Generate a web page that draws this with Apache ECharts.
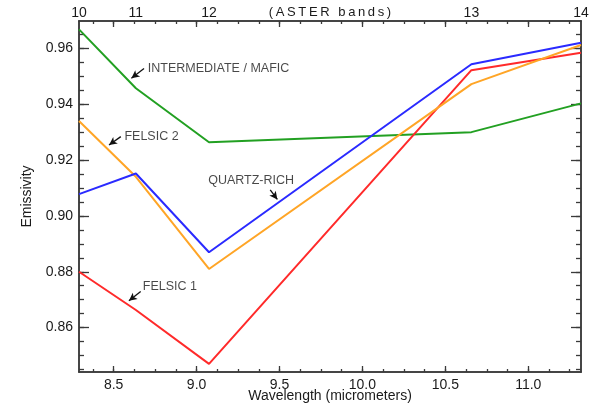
<!DOCTYPE html>
<html>
<head>
<meta charset="utf-8">
<script src="https://cdn.jsdelivr.net/npm/echarts@6/dist/echarts.min.js"></script>
<style>
  html, body { margin: 0; padding: 0; background: #fff; }
  #chart { width: 590px; height: 409px; }
</style>
</head>
<body>
<div id="chart"></div>
<script>
// ASTER TIR band centres (micrometers) and band numbers
const bandWavelengths = [8.291, 8.634, 9.075, 10.657, 11.318];
const bandNumbers = [10, 11, 12, 13, 14];

// emissivity per band
const intermediateMafic = [0.9668, 0.9457, 0.9264, 0.9300, 0.9403];
const quartzRich = [0.9078, 0.9152, 0.8870, 0.9543, 0.9620];
const felsic2 = [0.9340, 0.9140, 0.8810, 0.9472, 0.9612];
const felsic1 = [0.8800, 0.8663, 0.8470, 0.9522, 0.9584];

// tick labels
const xTickLabels = [8.5, 9.0, 9.5, 10.0, 10.5, 11.0];
const yTickLabels = [0.86, 0.88, 0.90, 0.92, 0.94, 0.96];

// annotations (data coordinates)
const annotationLabels = ['INTERMEDIATE / MAFIC', 'FELSIC 2', 'QUARTZ-RICH', 'FELSIC 1'];
const annotationTextAt = [[8.703, 0.9528], [8.562, 0.9284], [9.067, 0.9125], [8.673, 0.8746]];
const arrowTails = [[8.683, 0.9528], [8.543, 0.9284], [9.444, 0.9093], [8.663, 0.8729]];
const arrowHeads = [[8.607, 0.9493], [8.472, 0.9254], [9.487, 0.9059], [8.592, 0.8696]];

const X_MIN = 8.291, X_MAX = 11.318;
const Y_MIN = 0.8441, Y_MAX = 0.9698;

const axisColor = '#3a3a3a';
const textColor = '#1a1a1a';
const font = 'Liberation Sans, Arial, Helvetica, sans-serif';

// tick positions
const xMinorTicks = [];
for (let i = 67; i <= 90; i++) xMinorTicks.push(+(i * 0.125).toFixed(3));
const yMinorTicks = [];
for (let i = 169; i <= 193; i++) yMinorTicks.push(+(i * 0.005).toFixed(3));

const toPairs = vals => bandWavelengths.map((w, i) => [w, vals[i]]);

function xAxisDef(pos, ticks, len, labels, extra) {
  return Object.assign({
    type: 'value',
    position: pos,
    min: X_MIN,
    max: X_MAX,
    nameMoveOverlap: false,
    axisLine: { show: true, onZero: false, lineStyle: { color: axisColor, width: 1.5 } },
    axisTick: { show: true, inside: true, length: len, customValues: ticks, lineStyle: { color: axisColor, width: 1.3 } },
    axisLabel: labels ? Object.assign({ show: true, color: textColor, fontSize: 14, fontFamily: font }, labels) : { show: false },
    splitLine: { show: false }
  }, extra || {});
}

function yAxisDef(pos, ticks, len, labels, extra) {
  return Object.assign({
    type: 'value',
    position: pos,
    min: Y_MIN,
    max: Y_MAX,
    nameMoveOverlap: false,
    axisLine: { show: true, onZero: false, lineStyle: { color: axisColor, width: 1.5 } },
    axisTick: { show: true, inside: true, length: len, customValues: ticks, lineStyle: { color: axisColor, width: 1.3 } },
    axisLabel: labels ? Object.assign({ show: true, color: textColor, fontSize: 14, fontFamily: font }, labels) : { show: false },
    splitLine: { show: false }
  }, extra || {});
}

const chart = echarts.init(document.getElementById('chart'), null, { renderer: 'canvas' });

const lineSeries = (name, vals, color) => ({
  name: name,
  type: 'line',
  xAxisIndex: 0,
  yAxisIndex: 0,
  data: toPairs(vals),
  symbol: 'none',
  lineStyle: { color: color, width: 2 },
  z: 3
});

const option = {
  animation: false,
  backgroundColor: '#fff',
  grid: { left: 79, right: 9, top: 21, bottom: 37, containLabel: false, outerBoundsMode: 'none' },
  xAxis: [
    xAxisDef('bottom', xTickLabels, 6,
      { margin: 6, customValues: xTickLabels, formatter: v => v.toFixed(1) },
      {
        name: 'Wavelength (micrometers)',
        nameLocation: 'middle',
        nameGap: 17,
        nameTextStyle: { color: textColor, fontSize: 14, fontFamily: font }
      }),
    xAxisDef('bottom', xMinorTicks, 3, null),
    xAxisDef('top', xTickLabels, 6,
      {
        margin: 1,
        customValues: bandWavelengths,
        formatter: v => {
          const i = bandWavelengths.findIndex(w => Math.abs(w - v) < 1e-6);
          return i >= 0 ? String(bandNumbers[i]) : '';
        }
      },
      {
        name: '(\u2009A\u2009S\u2009T\u2009E\u2009R\u2009 \u2009b\u2009a\u2009n\u2009d\u2009s\u2009)',
        nameLocation: 'middle',
        nameGap: 2,
        nameTextStyle: { color: textColor, fontSize: 13, fontFamily: font }
      }),
    xAxisDef('top', xMinorTicks, 3, null)
  ],
  yAxis: [
    yAxisDef('left', yTickLabels, 10,
      { margin: 6, customValues: yTickLabels, formatter: v => v.toFixed(2) },
      {
        name: 'Emissivity',
        nameLocation: 'middle',
        nameGap: 45,
        nameRotate: 90,
        nameTextStyle: { color: textColor, fontSize: 14, fontFamily: font }
      }),
    yAxisDef('left', yMinorTicks, 5, null),
    yAxisDef('right', yTickLabels, 10, null),
    yAxisDef('right', yMinorTicks, 5, null)
  ],
  series: [
    lineSeries('INTERMEDIATE / MAFIC', intermediateMafic, '#22a022'),
    lineSeries('FELSIC 1', felsic1, '#ff2a2a'),
    lineSeries('FELSIC 2', felsic2, '#ffa526'),
    lineSeries('QUARTZ-RICH', quartzRich, '#2a2aff'),
    {
      name: 'labels',
      type: 'scatter',
      xAxisIndex: 0,
      yAxisIndex: 0,
      symbolSize: 1,
      itemStyle: { color: 'rgba(0,0,0,0)' },
      data: annotationTextAt.map((p, i) => ({ value: p, name: annotationLabels[i] })),
      label: {
        show: true,
        position: 'right',
        distance: 0,
        formatter: p => p.name,
        color: textColor,
        fontSize: 12.5,
        fontFamily: font
      },
      silent: true,
      z: 5,
      markLine: {
        silent: true,
        symbol: ['none', 'arrow'],
        symbolSize: [6, 8],
        lineStyle: { color: '#111', width: 1.3, type: 'solid' },
        label: { show: false },
        data: arrowTails.map((t, i) => [{ coord: t }, { coord: arrowHeads[i] }])
      }
    }
  ]
};

chart.setOption(option);
</script>
</body>
</html>
